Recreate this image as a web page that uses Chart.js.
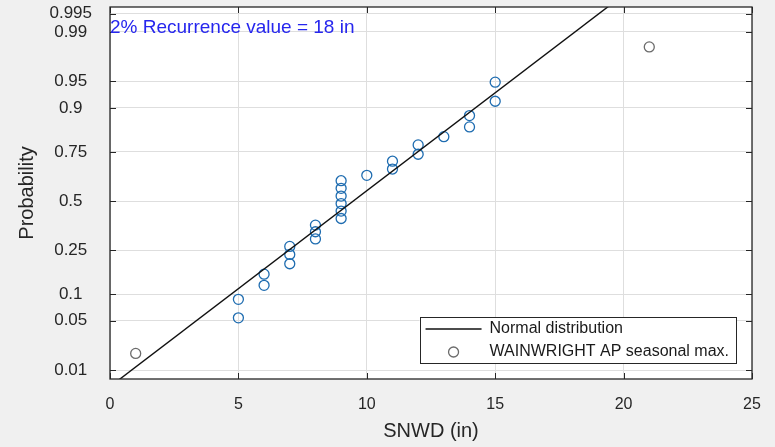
<!DOCTYPE html>
<html><head><meta charset="utf-8">
<script src="https://cdn.jsdelivr.net/npm/chart.js@4.4.1/dist/chart.umd.min.js"></script>
<style>html,body{margin:0;padding:0;background:#f0f0f0;}canvas{display:block;}</style>
</head><body>
<canvas id="c" width="775" height="447"></canvas>
<script>
// ---- data ----
const snwdValues = [1, 5, 5, 6, 6, 7, 7, 7, 8, 8, 8, 9, 9, 9, 9, 9, 9, 10, 11, 11, 12, 12, 13, 14, 14, 15, 15, 21];
const seriesProbabilities = [0.018, 0.054, 0.088, 0.123, 0.157, 0.194, 0.231, 0.266, 0.301, 0.336, 0.370,
  0.405, 0.445, 0.486, 0.527, 0.569, 0.610, 0.638, 0.670, 0.708, 0.740, 0.780, 0.812, 0.846, 0.880, 0.915, 0.949, 0.983];
const fitLineSnwd = [0, 20];
const fitLineProbabilities = [0.00533, 0.99772];
const probabilityTicks = [0.01, 0.05, 0.1, 0.25, 0.5, 0.75, 0.9, 0.95, 0.99, 0.995];
const probabilityTickLabels = ['0.01', '0.05', '0.1', '0.25', '0.5', '0.75', '0.9', '0.95', '0.99', '0.995'];
const xTickValues = [0, 5, 10, 15, 20, 25];
const xLimits = [0, 25];
const yLimitsProbability = [0.00716, 0.9962];
const seriesLabels = ['Normal distribution', 'WAINWRIGHT AP seasonal max.'];
const recurrenceText = '2% Recurrence value = 18 in';
const xTitle = 'SNWD (in)';
const yTitle = 'Probability';

// inverse standard normal CDF (probability-paper transform)
function probit(p) {
  const a = [-3.969683028665376e+01, 2.209460984245205e+02, -2.759285104469687e+02, 1.383577518672690e+02, -3.066479806614716e+01, 2.506628277459239e+00];
  const b = [-5.447609879822406e+01, 1.615858368580409e+02, -1.556989798598866e+02, 6.680131188771972e+01, -1.328068155288572e+01];
  const c = [-7.784894002430293e-03, -3.223964580411365e-01, -2.400758277161838e+00, -2.549732539343734e+00, 4.374664141464968e+00, 2.938163982698783e+00];
  const d = [7.784695709041462e-03, 3.224671290700398e-01, 2.445134137142996e+00, 3.754408661907416e+00];
  const pl = 0.02425, ph = 1 - pl;
  let q, r;
  if (p < pl) { q = Math.sqrt(-2 * Math.log(p)); return (((((c[0]*q+c[1])*q+c[2])*q+c[3])*q+c[4])*q+c[5]) / ((((d[0]*q+d[1])*q+d[2])*q+d[3])*q+1); }
  if (p > ph) { q = Math.sqrt(-2 * Math.log(1 - p)); return -(((((c[0]*q+c[1])*q+c[2])*q+c[3])*q+c[4])*q+c[5]) / ((((d[0]*q+d[1])*q+d[2])*q+d[3])*q+1); }
  q = p - 0.5; r = q * q;
  return (((((a[0]*r+a[1])*r+a[2])*r+a[3])*r+a[4])*r+a[5])*q / (((((b[0]*r+b[1])*r+b[2])*r+b[3])*r+b[4])*r+1);
}

const FONT = "'Liberation Sans', Arial, sans-serif";
const AXIS_COLOR = '#262626';
const BLUE = 'rgb(30,108,176)';
const GRAY = '#6b6b6b';
const lastIdx = snwdValues.length - 1;

const framePlugin = {
  id: 'frame',
  beforeDraw(chart) {
    const { ctx, chartArea: a } = chart;
    ctx.save();
    ctx.fillStyle = '#ffffff';
    ctx.fillRect(a.left, a.top, a.right - a.left, a.bottom - a.top);
    ctx.restore();
  },
  afterDraw(chart) {
    const { ctx, chartArea: a, scales } = chart;
    ctx.save();
    ctx.strokeStyle = AXIS_COLOR;
    ctx.lineWidth = 1.3;
    ctx.strokeRect(a.left, a.top, a.right - a.left, a.bottom - a.top);
    ctx.lineWidth = 1;
    const tl = 6;
    ctx.beginPath();
    scales.x.ticks.forEach(t => {
      const px = Math.round(scales.x.getPixelForValue(t.value)) + 0.5;
      ctx.moveTo(px, a.bottom); ctx.lineTo(px, a.bottom - tl);
      ctx.moveTo(px, a.top); ctx.lineTo(px, a.top + tl);
    });
    scales.y.ticks.forEach(t => {
      const py = Math.round(scales.y.getPixelForValue(t.value)) + 0.5;
      ctx.moveTo(a.left, py); ctx.lineTo(a.left + tl, py);
      ctx.moveTo(a.right, py); ctx.lineTo(a.right - tl, py);
    });
    ctx.stroke();

    ctx.font = '19px ' + FONT;
    ctx.fillStyle = 'rgb(38,38,238)';
    ctx.textAlign = 'left';
    ctx.textBaseline = 'middle';
    ctx.fillText(recurrenceText, a.left, a.top + 21);

    const ds = chart.data.datasets;
    ctx.font = '16px ' + FONT;
    const tw = Math.max(...ds.map(d => ctx.measureText(d.label).width));
    const right = a.right - 16;
    const w = 70 + tw + 7;
    const left = right - w;
    const top = a.bottom - 62;
    const h = 46;
    ctx.fillStyle = '#ffffff';
    ctx.fillRect(left, top, w, h);
    ctx.strokeStyle = AXIS_COLOR;
    ctx.lineWidth = 1;
    ctx.strokeRect(Math.round(left) + 0.5, Math.round(top) + 0.5, Math.round(w), h);
    const y1 = top + 12, y2 = top + 35;
    ctx.strokeStyle = '#111';
    ctx.lineWidth = 1.4;
    ctx.beginPath(); ctx.moveTo(left + 6, y1); ctx.lineTo(left + 62, y1); ctx.stroke();
    ctx.strokeStyle = GRAY;
    ctx.lineWidth = 1.3;
    ctx.beginPath(); ctx.arc(left + 34, y2, 5, 0, Math.PI * 2); ctx.stroke();
    ctx.fillStyle = '#1a1a1a';
    ctx.textBaseline = 'middle';
    ctx.fillText(ds[0].label, left + 70, y1);
    ctx.fillText(ds[1].label, left + 70, y2);
    ctx.restore();
  }
};

new Chart(document.getElementById('c'), {
  type: 'scatter',
  data: {
    datasets: [
      {
        label: seriesLabels[0],
        data: fitLineSnwd.map((x, i) => ({ x, y: probit(fitLineProbabilities[i]) })),
        showLine: true,
        borderColor: '#111111',
        borderWidth: 1.4,
        pointRadius: 0,
        fill: false,
        order: 0
      },
      {
        label: seriesLabels[1],
        data: snwdValues.map((x, i) => ({ x, y: probit(seriesProbabilities[i]) })),
        showLine: false,
        pointRadius: 5,
        pointHoverRadius: 5,
        pointBorderWidth: 1.3,
        pointBackgroundColor: 'rgba(0,0,0,0)',
        pointBorderColor: ctx => (ctx.dataIndex === 0 || ctx.dataIndex === lastIdx) ? GRAY : BLUE,
        order: 1
      }
    ]
  },
  options: {
    responsive: false,
    animation: false,
    events: [],
    layout: { padding: { left: 5, top: 7, right: 23, bottom: 0 } },
    plugins: { legend: { display: false }, tooltip: { enabled: false } },
    scales: {
      x: {
        type: 'linear',
        min: xLimits[0], max: xLimits[1],
        bounds: 'data',
        afterBuildTicks: s => { s.ticks = xTickValues.map(v => ({ value: v })); },
        afterFit: s => { s.height = 68; s.paddingLeft = 0; s.paddingRight = 0; },
        ticks: { autoSkip: false, maxRotation: 0, padding: 16, color: AXIS_COLOR, font: { family: FONT, size: 16 } },
        grid: { color: '#dedede', lineWidth: 1, drawTicks: false },
        border: { display: false },
        title: { display: true, text: xTitle, color: AXIS_COLOR, font: { family: FONT, size: 20 }, padding: { top: 6, bottom: 4 } }
      },
      y: {
        type: 'linear',
        min: probit(yLimitsProbability[0]), max: probit(yLimitsProbability[1]),
        bounds: 'data',
        afterBuildTicks: s => { s.ticks = probabilityTicks.map(p => ({ value: probit(p) })); },
        afterFit: s => { s.width = 105; s.paddingTop = 0; s.paddingBottom = 0; },
        ticks: {
          autoSkip: false, crossAlign: 'center', padding: 18, color: AXIS_COLOR,
          font: { family: FONT, size: 17 },
          callback: (v, i) => probabilityTickLabels[i]
        },
        grid: { color: '#dedede', lineWidth: 1, drawTicks: false },
        border: { display: false },
        title: { display: true, text: yTitle, color: AXIS_COLOR, font: { family: FONT, size: 20 }, padding: { top: 10, bottom: 0 } }
      }
    }
  },
  plugins: [framePlugin]
});
</script>
</body></html>
